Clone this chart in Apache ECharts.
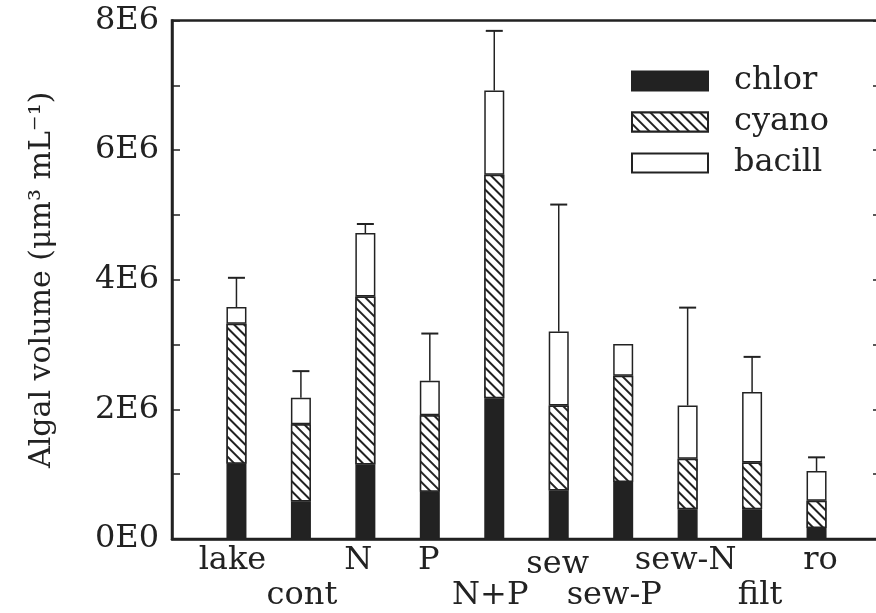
<!DOCTYPE html>
<html>
<head>
<meta charset="utf-8">
<title>Algal volume</title>
<script src="https://cdn.jsdelivr.net/npm/echarts@6/dist/echarts.min.js"></script>
<style>
html, body { margin: 0; padding: 0; background: #fff; }
#chart { width: 876px; height: 613px; }
</style>
</head>
<body>
<div id="chart"></div>
<script>
// treatments
var categories = ['lake', 'cont', 'N', 'P', 'N+P', 'sew', 'sew-P', 'sew-N', 'filt', 'ro'];
// stacked algal volume per group (um3 mL-1)
var chlor  = [1.16e6, 0.58e6, 1.15e6, 0.73e6, 2.17e6, 0.75e6, 0.88e6, 0.46e6, 0.46e6, 0.17e6];
var cyano  = [2.16e6, 1.19e6, 2.59e6, 1.18e6, 3.45e6, 1.31e6, 1.64e6, 0.78e6, 0.72e6, 0.42e6];
var bacill = [0.26e6, 0.41e6, 0.98e6, 0.53e6, 1.30e6, 1.14e6, 0.49e6, 0.82e6, 1.09e6, 0.46e6];
// upper error bar on the total
var errUp  = [0.45e6, 0.41e6, 0.14e6, 0.73e6, 0.92e6, 1.96e6, 0, 1.51e6, 0.54e6, 0.21e6];
var yTicks = [0, 2e6, 4e6, 6e6, 8e6];

var ink = '#222';
var font = 'DejaVu Serif';

// label placement like the original: two rows, small nudges
var lowered = { 'cont': 35, 'N+P': 35, 'sew-P': 35, 'filt': 35, 'sew': 4 };
var nudge = { 'lake': -4, 'cont': 1, 'N': -7, 'P': -1, 'N+P': -4, 'sew': -1,
              'sew-P': -9, 'sew-N': -2, 'filt': 8, 'ro': 4 };

// empty slot on each side so bars sit one step in from the frame
function pad(arr, blank) { return [blank].concat(arr, [blank]); }
var xData = pad(categories, '');

var rich = {};
for (var i = 0; i < categories.length; i++) {
	var c = categories[i];
	var dx = nudge[c] || 0;
	rich['l' + i] = {
		fontFamily: font, fontSize: 32, color: ink,
		padding: [lowered[c] || 0, dx < 0 ? -2 * dx : 0, 0, dx > 0 ? 2 * dx : 0]
	};
}

var errData = [];
for (var i = 0; i < categories.length; i++) {
	var total = chlor[i] + cyano[i] + bacill[i];
	errData.push([i + 1, total, errUp[i]]);
}

function renderErr(params, api) {
	var err = api.value(2);
	if (!err) return;
	var x = api.value(0), top = api.value(1);
	var p0 = api.coord([x, top]);
	var p1 = api.coord([x, top + err]);
	var cap = 8.5;
	return {
		type: 'group',
		children: [
			{ type: 'line', shape: { x1: p0[0], y1: p0[1], x2: p1[0], y2: p1[1] },
			  style: { stroke: ink, lineWidth: 1.5 } },
			{ type: 'line', shape: { x1: p1[0] - cap, y1: p1[1], x2: p1[0] + cap, y2: p1[1] },
			  style: { stroke: ink, lineWidth: 2 } }
		]
	};
}

var valueAxisBase = {
	type: 'value', min: 0, max: 8e6, interval: 2e6,
	splitLine: { show: false },
	axisTick: { show: true, inside: true, length: 8, lineStyle: { color: ink, width: 1.5 } },
	minorTick: { show: true, splitNumber: 2, length: 8, lineStyle: { color: ink, width: 1.5 } }
};

var option = {
	animation: false,
	backgroundColor: '#fff',
	grid: {
		left: 172, right: -5, top: 20.5, bottom: 74,
		containLabel: false, outerBoundsMode: 'none',
		show: true, borderColor: ink, borderWidth: 2.5
	},
	legend: {
		data: ['chlor', 'cyano', 'bacill'],
		orient: 'vertical', left: 626, top: 60,
		itemWidth: 76, itemHeight: 19, itemGap: 9,
		icon: 'rect',
		textStyle: { fontFamily: font, fontSize: 32, color: ink, padding: [0, 0, 0, 21] }
	},
	xAxis: {
		type: 'category', data: xData, boundaryGap: false,
		axisLine: { lineStyle: { color: ink, width: 2.5 } },
		axisTick: { show: false },
		axisLabel: {
			interval: 0, margin: 6,
			formatter: function (v, idx) {
				if (!v) return '';
				return '{l' + (idx - 1) + '|' + v + '}';
			},
			rich: rich
		}
	},
	yAxis: [
		Object.assign({}, valueAxisBase, {
			position: 'left',
			name: 'Algal volume (μm³ mL⁻¹)', nameLocation: 'middle', nameGap: 115,
			nameTextStyle: { fontFamily: font, fontSize: 30, color: ink },
			axisLine: { show: true, lineStyle: { color: ink, width: 2.5 } },
			axisLabel: {
				margin: 13, fontFamily: font, fontSize: 32, color: ink,
				formatter: function (v) {
					if (yTicks.indexOf(v) < 0) return '';
					return v === 0 ? '0E0' : (v / 1e6) + 'E6';
				}
			}
		}),
		Object.assign({}, valueAxisBase, {
			position: 'right',
			axisLine: { show: false },
			axisLabel: { show: false }
		})
	],
	series: [
		{
			name: 'chlor', type: 'bar', stack: 'vol', barWidth: 20,
			data: pad(chlor, null),
			itemStyle: { color: ink, borderColor: ink, borderWidth: 1.5 }
		},
		{
			name: 'cyano', type: 'bar', stack: 'vol', barWidth: 20,
			data: pad(cyano, null),
			itemStyle: {
				color: '#fff', borderColor: ink, borderWidth: 1.5,
				decal: {
					symbol: 'rect', symbolSize: 1, color: ink, backgroundColor: '#fff',
					dashArrayX: [1, 0], dashArrayY: [1.6, 4.6], rotation: Math.PI / 4
				}
			}
		},
		{
			name: 'bacill', type: 'bar', stack: 'vol', barWidth: 20,
			data: pad(bacill, null),
			itemStyle: { color: '#fff', borderColor: ink, borderWidth: 1.5 }
		},
		{
			name: 'err', type: 'custom', renderItem: renderErr,
			data: errData, z: 3, silent: true
		}
	]
};

var myChart = echarts.init(document.getElementById('chart'));
myChart.setOption(option);
</script>
</body>
</html>
